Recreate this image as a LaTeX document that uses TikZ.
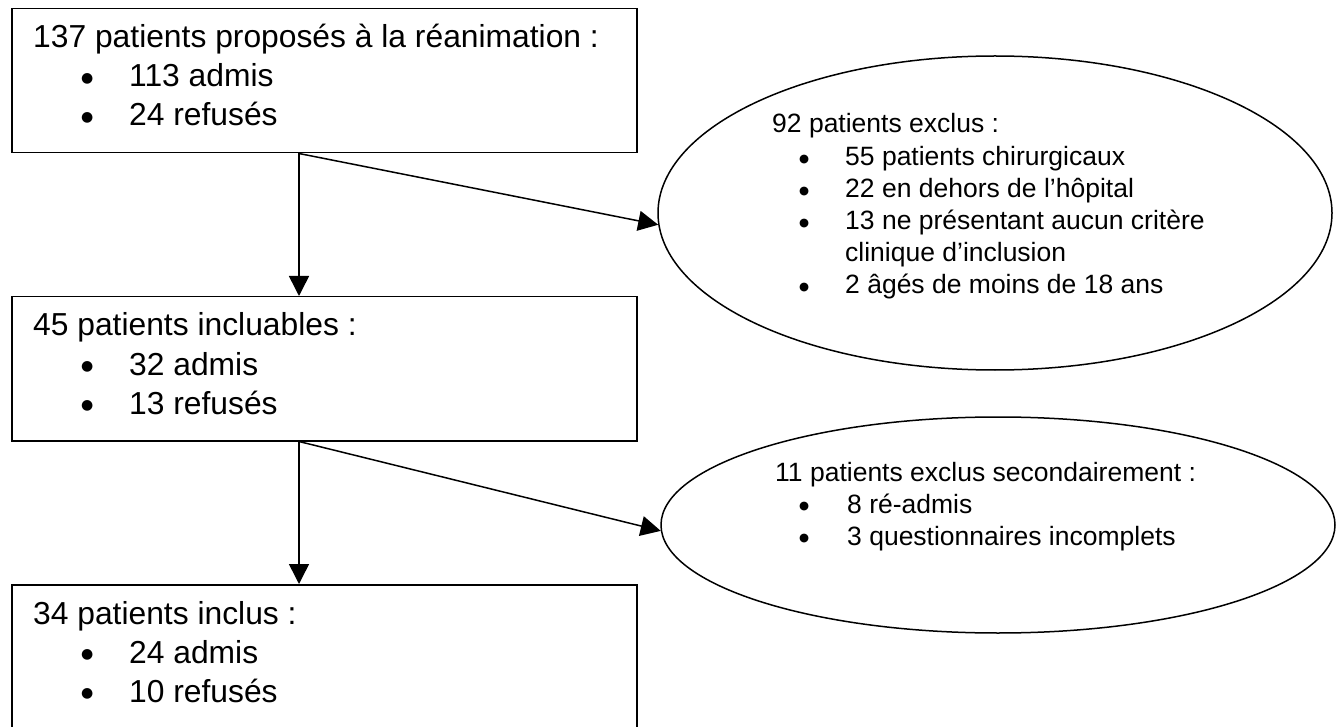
\documentclass[tikz,border=0pt]{standalone}
\usepackage{fontspec}
\setmainfont{Liberation Sans}
\newfontfamily\dejavu{DejaVu Sans}
\usetikzlibrary{arrows.meta,shapes.geometric}
\newcommand{\bigitem}[1]{\makebox[48pt][l]{\dejavu\fontsize{14}{16}\selectfont\raisebox{4.5pt}{●}}#1}
\newcommand{\smallitem}[1]{\makebox[46pt][l]{\dejavu\fontsize{11.5}{13}\selectfont\raisebox{3.6pt}{●}}#1}
\newcommand{\smallitemb}[1]{\makebox[48pt][l]{\dejavu\fontsize{11.5}{13}\selectfont\raisebox{3.6pt}{●}}#1}
\begin{document}
\begin{tikzpicture}[x=1pt,y=-1pt,
  box/.style={draw, line width=1.5pt, minimum width=625pt, minimum height=144pt, inner sep=0pt, anchor=north west},
  oval/.style={draw, ellipse, line width=1.5pt, inner sep=0pt},
  big/.style={font=\fontsize{31.8}{38}\selectfont, anchor=base west, inner sep=0pt},
  small/.style={font=\fontsize{26.5}{32}\selectfont, anchor=base west, inner sep=0pt},
  arr/.style={line width=1.5pt, -{Triangle[length=20pt,width=20pt]}}]
\clip (0,0) rectangle (1339,727);
% boxes
\node[box] (b1) at (11,8) {};
\node[box] (b2) at (11,296) {};
\node[box, minimum height=150pt] (b3) at (11,584) {};
% ellipses
\node[oval, minimum width=674pt, minimum height=314pt] (e1) at (995,213) {};
\node[oval, minimum width=674pt, minimum height=216pt] (e2) at (998,525) {};
% box 1 text
\node[big] (t1) at (33,48) {137 patients proposés à la réanimation :};
\node[big] (t1i1) at (81,87) {\bigitem{113 admis}};
\node[big] (t1i2) at (81,126) {\bigitem{24 refusés}};
% box 2 text
\node[big] (t2) at (33,336) {45 patients incluables :};
\node[big] (t2i1) at (81,375) {\bigitem{32 admis}};
\node[big] (t2i2) at (81,414) {\bigitem{13 refusés}};
% box 3 text
\node[big] (t3) at (33,624) {34 patients inclus :};
\node[big] (t3i1) at (81,663) {\bigitem{24 admis}};
\node[big] (t3i2) at (81,702) {\bigitem{10 refusés}};
% ellipse 1 text
\node[small] (u1) at (772,133) {92 patients exclus :};
\node[small] (u1i1) at (799,166) {\smallitem{55 patients chirurgicaux}};
\node[small] (u1i2) at (799,198) {\smallitem{22 en dehors de l’hôpital}};
\node[small] (u1i3) at (799,230) {\smallitem{13 ne présentant aucun critère}};
\node[small] (u1i3b) at (845,262) {clinique d’inclusion};
\node[small] (u1i4) at (799,294) {\smallitem{2 âgés de moins de 18 ans}};
% ellipse 2 text
\node[small] (u2) at (775,481) {11 patients exclus secondairement :};
\node[small] (u2i1) at (799,513) {\smallitemb{8 ré-admis}};
\node[small] (u2i2) at (799,545) {\smallitemb{3 questionnaires incomplets}};
% connectors
\path (b1.south west) ++(288,0) coordinate (s1);
\path (b2.south west) ++(288,0) coordinate (s2);
\draw[arr] (s1) -- (s1 |- b2.north);
\draw[arr] (s1) -- (e1.182);
\draw[arr] (s2) -- (s2 |- b3.north);
\draw[arr] (s2) -- (e2.181);
\end{tikzpicture}
\end{document}
